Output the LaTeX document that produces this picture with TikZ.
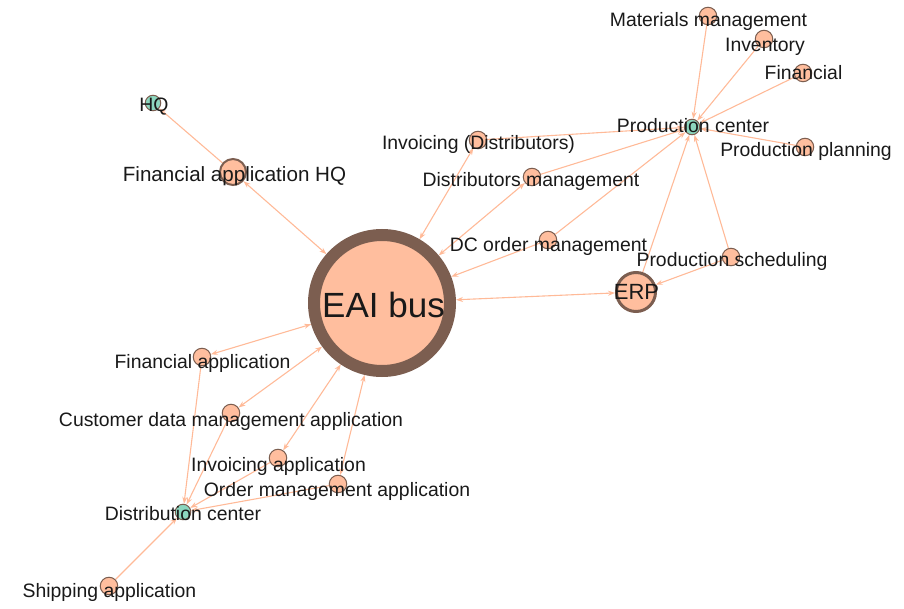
\documentclass[tikz,border=0pt]{standalone}
\usepackage{fontspec}
\setmainfont{Liberation Sans}
\usetikzlibrary{arrows.meta}
\definecolor{peach}{RGB}{255,190,158}
\definecolor{brownb}{RGB}{124,94,80}
\definecolor{tealn}{RGB}{140,214,190}
\definecolor{edgec}{RGB}{255,186,152}
\pgfdeclarelayer{edges}
\pgfsetlayers{edges,main}
\tikzset{
  vtx/.style={circle, draw=brownb, fill=peach, inner sep=0pt, line width=1pt, minimum size=17.5pt},
  hub/.style={circle, draw=brownb, fill=tealn, inner sep=0pt, line width=1pt, minimum size=15.5pt},
  lab/.style={anchor=base, inner sep=0pt, text=black!90, font=\fontsize{19.4}{19.4}\selectfont},
  conn/.style={draw=edgec, line width=1.1pt, -{Stealth[length=7pt,width=5pt]}},
  bconn/.style={draw=edgec, line width=1.1pt, {Stealth[length=7pt,width=5pt]}-{Stealth[length=7pt,width=5pt]}},
}
\begin{document}
\begin{tikzpicture}[x=1pt,y=-1pt]
\useasboundingbox (0,0) rectangle (904,609);
% nodes
\node[vtx, line width=12pt, minimum size=136pt] (eai) at (382,303) {};
\node[vtx, line width=3pt, minimum size=39pt] (erp) at (636,292) {};
\node[vtx, line width=2pt, minimum size=26pt] (fah) at (233,172) {};
\node[hub] (hq) at (153,103) {};
\node[hub] (pc) at (692,127) {};
\node[vtx] (mm) at (708,16) {};
\node[vtx] (inv) at (764,39) {};
\node[vtx] (fin) at (803,73) {};
\node[vtx] (pp) at (805,147) {};
\node[vtx] (invd) at (478,140) {};
\node[vtx] (dm) at (532,177) {};
\node[vtx] (dco) at (548,240) {};
\node[vtx] (ps) at (731,257) {};
\node[vtx] (fa) at (202,357) {};
\node[vtx] (cdm) at (231,413) {};
\node[vtx] (ia) at (278,458) {};
\node[vtx] (oma) at (338,484) {};
\node[hub] (dc) at (183,512) {};
\node[vtx] (sa) at (109,586) {};
% edges
\begin{pgfonlayer}{edges}
\draw[conn] (fah) -- (hq);
\draw[bconn] (fah) -- (eai);
\draw[bconn] (invd) -- (eai);
\draw[bconn] (dm) -- (eai);
\draw[conn] (dco) -- (eai);
\draw[conn] (invd) -- (pc);
\draw[conn] (dm) -- (pc);
\draw[conn] (dco) -- (pc);
\draw[conn] (erp) -- (pc);
\draw[conn] (ps) -- (pc);
\draw[conn] (ps) -- (erp);
\draw[bconn] (eai) -- (erp);
\draw[conn] (mm) -- (pc);
\draw[conn] (inv) -- (pc);
\draw[conn] (fin) -- (pc);
\draw[conn] (pp) -- (pc);
\draw[bconn] (fa) -- (eai);
\draw[bconn] (cdm) -- (eai);
\draw[bconn] (ia) -- (eai);
\draw[bconn] (oma) -- (eai);
\draw[conn] (fa) -- (dc);
\draw[conn] (cdm) -- (dc);
\draw[conn] (ia) -- (dc);
\draw[conn] (oma) -- (dc);
\draw[conn] (sa) -- (dc);
\end{pgfonlayer}
% labels
\node[lab, font=\fontsize{35}{35}\selectfont] (l-eai) at (383.5,318) {EAI bus};
\node[lab, font=\fontsize{22}{22}\selectfont] (l-erp) at (636.5,300) {ERP};
\node[lab, font=\fontsize{20.6}{20.6}\selectfont] (l-fah) at (234.5,182) {Financial application HQ};
\node[lab] (l-hq) at (154,112) {HQ};
\node[lab] (l-pc) at (693,133) {Production center};
\node[lab] (l-mm) at (708.5,27) {Materials management};
\node[lab] (l-inv) at (765,52) {Inventory};
\node[lab] (l-fin) at (803.5,80) {Financial};
\node[lab] (l-pp) at (806,157) {Production planning};
\node[lab] (l-invd) at (478.5,150) {Invoicing (Distributors)};
\node[lab] (l-dm) at (531,187) {Distributors management};
\node[lab] (l-dco) at (548.5,252) {DC order management};
\node[lab] (l-ps) at (732,267) {Production scheduling};
\node[lab] (l-fa) at (202.5,368) {Financial application};
\node[lab] (l-cdm) at (231,426) {Customer data management application};
\node[lab] (l-ia) at (278.5,471) {Invoicing application};
\node[lab] (l-oma) at (337,496) {Order management application};
\node[lab] (l-dc) at (183,520) {Distribution center};
\node[lab] (l-sa) at (109.5,597) {Shipping application};
\end{tikzpicture}
\end{document}
